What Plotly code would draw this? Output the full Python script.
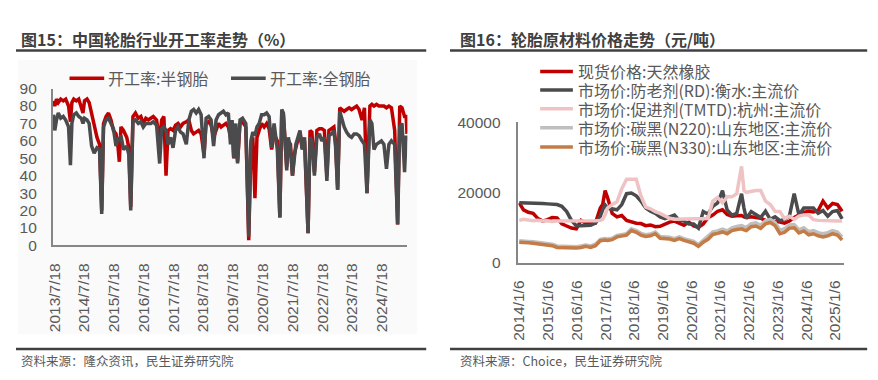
import plotly.graph_objects as go

# ---------------- data: left chart (tyre plant operating rate, %) ----------------
left_dates = [
    "2013-07-05", "2013-07-20", "2013-08-10", "2013-09-01", "2013-10-01", "2013-11-01", "2013-12-01",
    "2014-01-05", "2014-01-28", "2014-02-15", "2014-03-10", "2014-04-10", "2014-05-10", "2014-06-10",
    "2014-07-01", "2014-07-20", "2014-08-20", "2014-09-15", "2014-10-15", "2014-11-15", "2014-12-20",
    "2015-01-20", "2015-02-16", "2015-03-10", "2015-04-10", "2015-05-10", "2015-06-10", "2015-07-10",
    "2015-08-10", "2015-09-05", "2015-09-20", "2015-10-10", "2015-11-10", "2015-12-20", "2016-01-15",
    "2016-02-07", "2016-03-05", "2016-04-05", "2016-05-10", "2016-06-10", "2016-07-10", "2016-08-10",
    "2016-09-10", "2016-10-10", "2016-11-10", "2016-12-20", "2017-01-27", "2017-02-20", "2017-03-20",
    "2017-04-15", "2017-05-10", "2017-06-10", "2017-07-10", "2017-08-10", "2017-09-10", "2017-10-10",
    "2017-11-10", "2017-12-20", "2018-01-20", "2018-02-20", "2018-03-20", "2018-04-20", "2018-05-20",
    "2018-06-20", "2018-07-25", "2018-08-20", "2018-09-20", "2018-10-20", "2018-11-20", "2018-12-20",
    "2019-01-20", "2019-02-20", "2019-03-20", "2019-04-20", "2019-05-20", "2019-06-15", "2019-07-05",
    "2019-07-25", "2019-08-20", "2019-09-10", "2019-10-10", "2019-11-10", "2019-12-20", "2020-01-25",
    "2020-02-20", "2020-03-15", "2020-04-10", "2020-05-05", "2020-06-01", "2020-07-01", "2020-08-01",
    "2020-09-01", "2020-10-01", "2020-11-01", "2020-12-01", "2021-01-10", "2021-02-10", "2021-03-05",
    "2021-03-25", "2021-04-15", "2021-05-05", "2021-05-25", "2021-06-20", "2021-07-15", "2021-08-05",
    "2021-08-25", "2021-09-20", "2021-10-15", "2021-11-10", "2021-12-10", "2022-01-22", "2022-02-15",
    "2022-03-10", "2022-04-10", "2022-05-10", "2022-06-10", "2022-07-10", "2022-08-10", "2022-09-10",
    "2022-10-05", "2022-11-05", "2022-12-05", "2022-12-25", "2023-01-20", "2023-02-15", "2023-03-10",
    "2023-04-10", "2023-05-10", "2023-06-10", "2023-07-10", "2023-08-10", "2023-09-10", "2023-10-10",
    "2023-11-15", "2023-12-15", "2024-01-15", "2024-02-20", "2024-03-15", "2024-04-10", "2024-05-10",
    "2024-06-10", "2024-07-10", "2024-08-10", "2024-09-10", "2024-10-10", "2024-11-10", "2024-12-20",
    "2025-01-25", "2025-02-20", "2025-03-20", "2025-04-20", "2025-05-10", "2025-05-20",
]
semi_steel = [
    83, 80, 84, 82, 84, 83, 84,
    80, 71, 82, 84, 83, 84, 80,
    76, 83, 84, 82, 76, 68, 62,
    58, 20, 70, 74, 76, 72, 66,
    64, 56, 48, 68, 66, 62, 56,
    22, 74, 76, 73, 74, 70, 73,
    72, 73, 74, 72, 60, 72, 74,
    40, 66, 67, 66, 69, 70, 68,
    70, 71, 72, 66, 64, 65, 66,
    64, 52, 70, 71, 69, 62, 66,
    70, 68, 69, 70, 68, 62, 68,
    50, 66, 48, 70, 71, 68, 3,
    55, 62, 27, 62, 66, 70, 68,
    70, 67, 55, 64, 60, 16, 76,
    75, 58, 45, 60, 58, 40, 52,
    56, 60, 65, 56, 60, 7, 66,
    65, 42, 66, 67, 67, 66, 40,
    66, 67, 68, 60, 32, 79, 78,
    77, 78, 79, 78, 79, 80, 78,
    72, 79, 30, 80, 81, 80, 81,
    80, 80, 80, 79, 80, 79, 66,
    12, 80, 79, 74, 74, 64,
]
all_steel = [
    75, 66, 72, 76, 73, 74, 72,
    68, 46, 70, 75, 76, 74, 73,
    70, 73, 72, 70, 57, 53, 56,
    55, 18, 68, 72, 73, 70, 67,
    57, 62, 60, 63, 55, 57, 52,
    20, 71, 72, 70, 71, 68, 70,
    70, 70, 71, 69, 47, 67, 68,
    66, 58, 62, 56, 66, 68, 65,
    64, 58, 72, 77, 78, 76, 78,
    75, 50, 73, 74, 72, 57, 72,
    75, 76, 77, 75, 76, 58, 72,
    50, 70, 47, 72, 73, 70, 5,
    60, 65, 63, 68, 70, 75, 75,
    76, 74, 56, 70, 55, 16, 78,
    76, 60, 43, 62, 55, 40, 52,
    58, 62, 66, 55, 62, 7, 62,
    60, 40, 62, 64, 60, 62, 37,
    63, 64, 66, 57, 32, 77, 73,
    68, 65, 63, 62, 64, 64, 63,
    60, 58, 30, 72, 70, 55, 58,
    59, 60, 58, 44, 58, 60, 58,
    12, 68, 70, 42, 63, 60,
]
left_tick_dates = ["2013-07-18", "2014-07-18", "2015-07-18", "2016-07-18", "2017-07-18", "2018-07-18",
                   "2019-07-18", "2020-07-18", "2021-07-18", "2022-07-18", "2023-07-18", "2024-07-18"]
left_tick_text = ["2013/7/18", "2014/7/18", "2015/7/18", "2016/7/18", "2017/7/18", "2018/7/18",
                  "2019/7/18", "2020/7/18", "2021/7/18", "2022/7/18", "2023/7/18", "2024/7/18"]
left_y_ticks = [0, 10, 20, 30, 40, 50, 60, 70, 80, 90]
left_y_text = ["0", "10", "20", "30", "40", "50", "60", "70", "80", "90"]

# ---------------- data: right chart (raw material prices, yuan/t) ----------------
right_dates = [
    "2014-01-06", "2014-03-01", "2014-05-01", "2014-07-01", "2014-09-01", "2014-11-01",
    "2015-01-01", "2015-03-01", "2015-05-01", "2015-07-01", "2015-09-01", "2015-11-01",
    "2016-01-01", "2016-03-01", "2016-05-01", "2016-07-01", "2016-09-01", "2016-11-01", "2016-12-01",
    "2017-01-01", "2017-02-01", "2017-04-01", "2017-06-01", "2017-08-01", "2017-10-01", "2017-12-01",
    "2018-02-01", "2018-04-01", "2018-06-01", "2018-08-01", "2018-10-01", "2018-12-01",
    "2019-02-01", "2019-04-01", "2019-06-01", "2019-08-01", "2019-10-01", "2019-12-01",
    "2020-02-01", "2020-04-01", "2020-06-01", "2020-08-01", "2020-10-01", "2020-12-01",
    "2021-02-01", "2021-04-01", "2021-06-01", "2021-08-01", "2021-10-01", "2021-11-01", "2021-12-01",
    "2022-02-01", "2022-04-01", "2022-06-01", "2022-08-01", "2022-10-01", "2022-12-01",
    "2023-02-01", "2023-04-01", "2023-06-01", "2023-08-01", "2023-10-01", "2023-12-01",
    "2024-02-01", "2024-04-01", "2024-06-01", "2024-08-01", "2024-10-01", "2024-12-01",
    "2025-02-01", "2025-04-01",
]
natural_rubber = [
    17000, 15000, 14300, 14000, 12500, 11800,
    12200, 12800, 12700, 11000, 10400, 9800,
    9600, 12000, 11200, 11500, 11300, 15500, 16500,
    20500, 18500, 14000, 13000, 13400, 12000, 11600,
    11200, 11100, 10500, 10700, 10200, 10300,
    11000, 11500, 11800, 11200, 10600, 11500,
    10400, 10000, 11000, 12800, 13500, 14600,
    15000, 13700, 13200, 13300, 13400, 13000, 12800,
    13000, 12800, 12600, 12000, 11900, 11800,
    11500, 11200, 11800, 12800, 13600, 14300,
    14600, 14400, 14800, 17500, 15500, 16800,
    16500, 14600,
]
antioxidant_rd = [
    17000, 17000, 16900, 16900, 16800, 16800,
    16700, 16600, 16500, 16000, 14500, 12000,
    10500, 10500, 10500, 10600, 11200, 13200, 15000,
    16400, 15500, 15300, 15000, 16500, 19600, 19800,
    19000, 17500, 15500, 14600, 14000, 13000,
    12500, 13000, 13500, 12000, 11800, 11000,
    11000, 9800, 14500, 13800, 16000, 17000,
    20500, 15000, 13500, 14000, 19600, 15500, 12500,
    14500, 13700, 12800, 14600, 12300, 13000,
    11900, 12300, 13200, 19600, 13500, 15500,
    15500, 15500, 14000, 14800, 13200, 14500,
    14800, 12400,
]
accelerator_tmtd = [
    12000, 12300, 12100, 11900, 12000, 11800,
    11900, 11700, 11800, 11800, 11700, 11700,
    11800, 11800, 11700, 11800, 11900, 12000, 12300,
    13500, 15500, 16500, 17300, 21000, 23700, 23700,
    23700, 19000, 15800, 15300, 14500, 14000,
    13200, 12600, 12300, 12300, 12300, 12300,
    12300, 12300, 12300, 12500, 17500, 18500,
    17000, 18700, 18700, 19600, 27400, 20500, 20000,
    20300, 20500, 20500, 17500, 16500, 14600,
    14500, 12500, 13200, 12300, 13200, 13500,
    13500, 12200, 12000, 11900, 11900, 11800,
    11800, 11800,
]
carbon_black_n220 = [
    6200, 6200, 6000, 5900, 5700, 5600,
    5400, 5200, 4700, 4600, 4700, 4600,
    4500, 4700, 5000, 4700, 5200, 6600, 6800,
    6800, 6700, 6900, 7700, 7900, 8200, 9600,
    9100, 8300, 7900, 8100, 8700, 7400,
    7300, 7200, 6800, 7300, 6800, 6400,
    6000, 5100, 6300, 7200, 8700, 9000,
    9500, 9000, 9900, 10300, 10500, 10200, 10000,
    11100, 11300, 10600, 11900, 12300, 11400,
    9200, 9600, 10700, 10800, 9300, 9900,
    8800, 9100, 8500, 8200, 8500, 9100,
    8700, 7300,
]
carbon_black_n330 = [
    5800, 5800, 5600, 5500, 5300, 5200,
    5000, 4800, 4300, 4200, 4300, 4200,
    4100, 4300, 4600, 4300, 4800, 6200, 6400,
    6400, 6300, 6500, 7300, 7500, 7800, 9100,
    8600, 7800, 7400, 7600, 8200, 6900,
    6800, 6700, 6300, 6800, 6300, 5900,
    5500, 4600, 5800, 6600, 8000, 8300,
    8700, 8200, 9100, 9400, 9600, 9300, 9100,
    10200, 10400, 9700, 11000, 11400, 10500,
    8200, 8600, 9800, 9900, 8400, 9000,
    7900, 8200, 7600, 7300, 7600, 8200,
    7800, 6400,
]
right_tick_dates = ["2014-01-06", "2015-01-06", "2016-01-06", "2017-01-06", "2018-01-06", "2019-01-06",
                    "2020-01-06", "2021-01-06", "2022-01-06", "2023-01-06", "2024-01-06", "2025-01-06"]
right_tick_text = ["2014/1/6", "2015/1/6", "2016/1/6", "2017/1/6", "2018/1/6", "2019/1/6",
                   "2020/1/6", "2021/1/6", "2022/1/6", "2023/1/6", "2024/1/6", "2025/1/6"]
right_y_ticks = [0, 20000, 40000]
right_y_text = ["0", "20000", "40000"]

left_names = ["开工率:半钢胎", "开工率:全钢胎"]
right_names = ["现货价格:天然橡胶", "市场价:防老剂(RD):衡水:主流价", "市场价:促进剂(TMTD):杭州:主流价",
               "市场价:碳黑(N220):山东地区:主流价", "市场价:碳黑(N330):山东地区:主流价"]

# ---------------- styling ----------------
W, H = 878, 380
OFF = 8  # page body margin offset of the rendered figure
FONT = "Noto Sans CJK SC"
NUMFONT = "Liberation Sans"
TXT = "#595959"
DARK = "#404040"
left_colors = ["#C00000", "#4B4B4D"]
right_colors = ["#C00000", "#4B4B4D", "#EFC3C3", "#BFBFBF", "#C47B45"]


def fx(x):
    return (x - OFF) / W


def fy(y):
    return 1 - (y - OFF) / H


fig = go.Figure()

for name, vals, col in zip(left_names, [semi_steel, all_steel], left_colors):
    fig.add_trace(go.Scatter(x=left_dates, y=vals, name=name, mode="lines",
                             line=dict(color=col, width=3.5), xaxis="x", yaxis="y",
                             showlegend=False, hoverinfo="skip"))

for name, vals, col in zip(right_names,
                           [natural_rubber, antioxidant_rd, accelerator_tmtd, carbon_black_n220, carbon_black_n330],
                           right_colors):
    fig.add_trace(go.Scatter(x=right_dates, y=vals, name=name, mode="lines",
                             line=dict(color=col, width=3.5), xaxis="x2", yaxis="y2",
                             showlegend=False, hoverinfo="skip"))

axis_common = dict(showgrid=False, zeroline=False, showline=True, linecolor="#868686", linewidth=1.5,
                   ticks="", tickfont=dict(family=NUMFONT, size=15.5, color=TXT))

shapes = []
annotations = []

# light background panel behind the left chart
shapes.append(dict(type="rect", xref="paper", yref="paper", x0=fx(10), x1=fx(413), y0=fy(340), y1=fy(53),
                   fillcolor="#FAFAFA", line=dict(width=0), layer="below"))

# heading rules and footer rules
for x0, x1 in [(8, 422), (446, 867)]:
    for y in [43, 355.5]:
        shapes.append(dict(type="line", xref="paper", yref="paper", x0=fx(x0), x1=fx(x1), y0=fy(y), y1=fy(y),
                           line=dict(color=DARK, width=2.5)))

# titles
annotations.append(dict(text="<b>图15：中国轮胎行业开工率走势（%）</b>", x=fx(11), y=fy(31), xref="paper", yref="paper",
                        xanchor="left", yanchor="middle", showarrow=False,
                        font=dict(family=FONT, size=16, color=DARK)))
annotations.append(dict(text="<b>图16：轮胎原材料价格走势（元/吨）</b>", x=fx(454), y=fy(31), xref="paper", yref="paper",
                        xanchor="left", yanchor="middle", showarrow=False,
                        font=dict(family=FONT, size=16, color=DARK)))
# sources
annotations.append(dict(text="资料来源：隆众资讯，民生证券研究院", x=fx(11), y=fy(368), xref="paper", yref="paper",
                        xanchor="left", yanchor="middle", showarrow=False,
                        font=dict(family=FONT, size=12.5, color=TXT)))
annotations.append(dict(text="资料来源：Choice，民生证券研究院", x=fx(454), y=fy(368), xref="paper", yref="paper",
                        xanchor="left", yanchor="middle", showarrow=False,
                        font=dict(family=FONT, size=12.5, color=TXT)))

# legend, left chart (horizontal)
for (lx0, lx1, tx), name, col in zip([(62, 97, 99), (225, 260, 262)], left_names, left_colors):
    shapes.append(dict(type="line", xref="paper", yref="paper", x0=fx(lx0), x1=fx(lx1), y0=fy(72), y1=fy(72),
                       line=dict(color=col, width=3.5)))
    annotations.append(dict(text=name, x=fx(tx), y=fy(72), xref="paper", yref="paper", xanchor="left",
                            yanchor="middle", showarrow=False, font=dict(family=FONT, size=16, color=TXT)))

# legend, right chart (vertical)
for ry, name, col in zip([65, 84.5, 104, 124, 144], right_names, right_colors):
    shapes.append(dict(type="line", xref="paper", yref="paper", x0=fx(537), x1=fx(570), y0=fy(ry), y1=fy(ry),
                       line=dict(color=col, width=3.5)))
    annotations.append(dict(text=name, x=fx(573), y=fy(ry), xref="paper", yref="paper", xanchor="left",
                            yanchor="middle", showarrow=False, font=dict(family=FONT, size=16, color=TXT)))

fig.update_layout(
    width=W, height=H,
    margin=dict(l=0, r=0, t=0, b=0),
    paper_bgcolor="white", plot_bgcolor="rgba(0,0,0,0)",
    font=dict(family=FONT, color=TXT),
    xaxis=dict(axis_common, domain=[fx(45), fx(403)], anchor="y", type="date",
               range=["2013-06-24", "2025-05-25"], tickmode="array", tickvals=left_tick_dates,
               ticktext=left_tick_text, tickangle=-90, ticklabelstandoff=10),
    yaxis=dict(axis_common, domain=[fy(247), fy(83)], anchor="x", range=[0, 90],
               tickmode="array", tickvals=left_y_ticks, ticktext=left_y_text, ticklabelstandoff=11),
    xaxis2=dict(axis_common, domain=[fx(515), fx(844)], anchor="y2", type="date",
                range=["2013-12-26", "2025-04-30"], tickmode="array", tickvals=right_tick_dates,
                ticktext=right_tick_text, tickangle=-90, ticklabelstandoff=10),
    yaxis2=dict(axis_common, domain=[fy(265), fy(118)], anchor="x2", range=[0, 40000],
                tickmode="array", tickvals=right_y_ticks, ticktext=right_y_text, ticklabelstandoff=13),
    shapes=shapes,
    annotations=annotations,
    showlegend=False,
)

fig.write_html("out.html")
